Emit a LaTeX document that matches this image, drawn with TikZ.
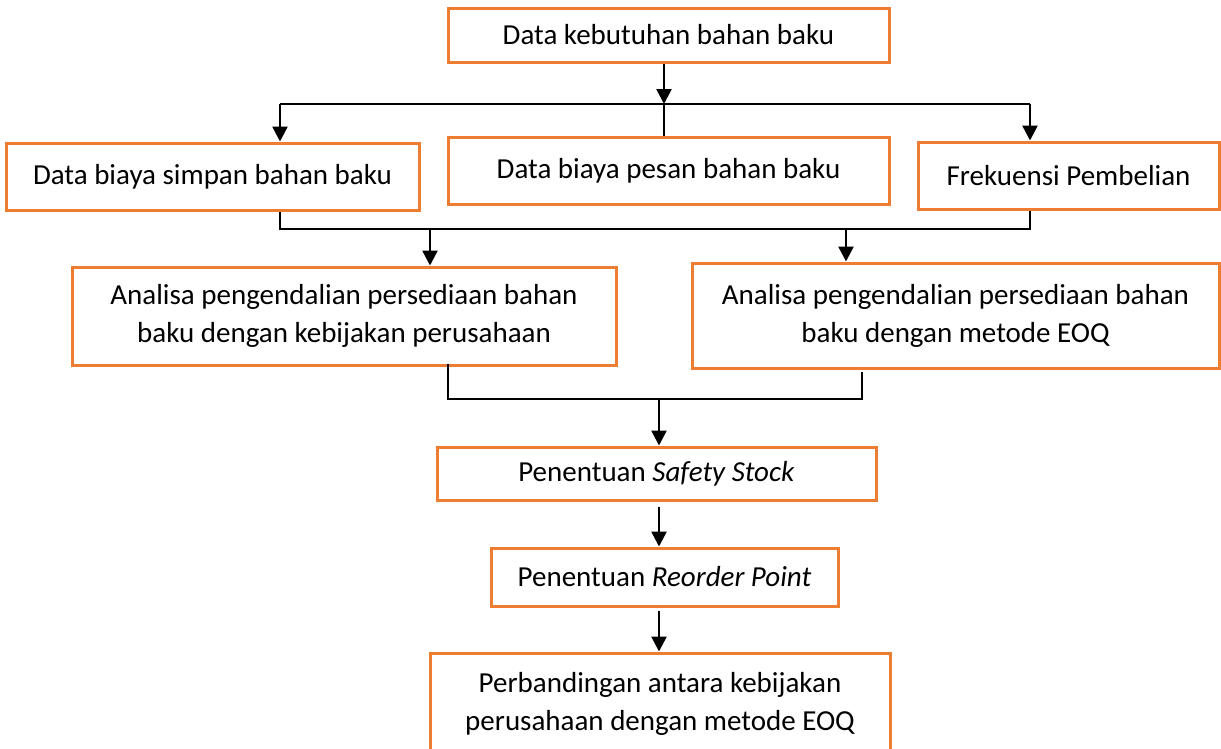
\documentclass[tikz,border=0pt]{standalone}
\usepackage{fontspec}
\setmainfont{Carlito}
\usetikzlibrary{arrows.meta}
\definecolor{boxorange}{HTML}{ED7D31}
\begin{document}
\begin{tikzpicture}[x=1pt,y=-1pt,
  box/.style={draw=boxorange,line width=3pt,inner sep=0pt,
    font=\fontsize{29}{38}\selectfont,align=center,text=black},
  link/.style={line width=2.6pt,black},
  arr/.style={link,-{Triangle[width=15pt,length=15pt]}}]
\useasboundingbox (0,0) rectangle (1221,748);
\clip (0,0) rectangle (1221,748);

\node[box,minimum width=441pt,minimum height=54pt] (top) at (668.5,35) {Data kebutuhan bahan baku};
\node[box,minimum width=413pt,minimum height=67pt] (simpan) at (212.5,176.5) {Data biaya simpan bahan baku};
\node[box,minimum width=441pt,minimum height=67pt] (pesan) at (668.5,170.5) {Data biaya pesan bahan baku};
\node[box,minimum width=301pt,minimum height=67pt] (frek) at (1068.5,175.5) {Frekuensi Pembelian};
\node[box,minimum width=544pt,minimum height=98pt] (kebij) at (344,316) {Analisa pengendalian persediaan bahan\\baku dengan kebijakan perusahaan};
\node[box,minimum width=527pt,minimum height=105pt] (eoq) at (955.5,315.5) {Analisa pengendalian persediaan bahan\\baku dengan metode EOQ};
\node[box,minimum width=439pt,minimum height=53pt] (safety) at (656.5,473.5) {Penentuan \textit{Safety Stock}};
\node[box,minimum width=347pt,minimum height=58pt] (reorder) at (664.5,577) {Penentuan \textit{Reorder Point}};
\node[box,minimum width=460pt,minimum height=102pt] (banding) at (660,704) {Perbandingan antara kebijakan\\perusahaan dengan metode EOQ};

\coordinate (h1L) at (280,104);
\coordinate (h1M) at (664,104);
\coordinate (h1R) at (1030,104);
\draw[arr] (top.south -| h1M) -- (h1M);
\draw[link] (h1M) -- (pesan.north -| h1M);
\draw[link] (h1L) -- (h1R);
\draw[arr] (h1L) -- (simpan.north -| h1L);
\draw[arr] (h1R) -- (frek.north -| h1R);

\coordinate (h2L) at (280,229);
\coordinate (h2R) at (1030,229);
\coordinate (a1) at (430,229);
\coordinate (a2) at (846,229);
\draw[link] (simpan.south -| h2L) -- (h2L) -- (h2R) -- (frek.south -| h2R);
\draw[arr] (a1) -- (kebij.north -| a1);
\draw[arr] (a2) -- (eoq.north -| a2);

\coordinate (h3L) at (448,399);
\coordinate (h3M) at (659,399);
\coordinate (h3R) at (862,399);
\draw[link] ([yshift=3pt]kebij.south -| h3L) -- (h3L) -- (h3R) -- ([yshift=-2pt]eoq.south -| h3R);
\draw[arr] (h3M) -- (safety.north -| h3M);
\draw[arr,shorten <=5pt] (safety.south -| h3M) -- (reorder.north -| h3M);
\draw[arr,shorten <=3pt] (reorder.south -| h3M) -- (banding.north -| h3M);
\end{tikzpicture}
\end{document}
